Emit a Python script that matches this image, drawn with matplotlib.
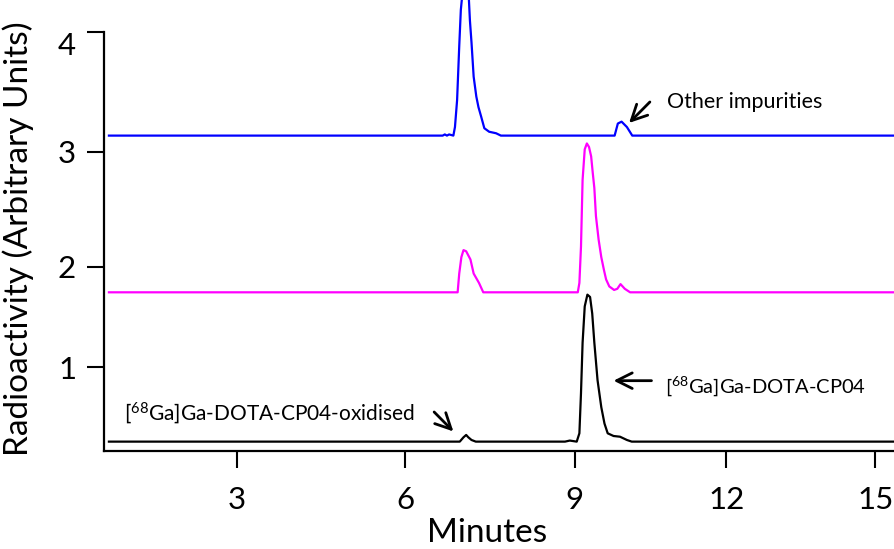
import matplotlib
matplotlib.use("Agg")
import matplotlib.pyplot as plt

plt.rcParams['font.family'] = ['Lato', 'DejaVu Sans']
plt.rcParams['mathtext.fontset'] = 'custom'
plt.rcParams['mathtext.rm'] = 'Lato'
plt.rcParams['mathtext.it'] = 'Lato'

# traces (minutes, arbitrary units incl. offset)
blue_x = [0.45, 6.70, 6.74, 6.78, 6.82, 6.90, 6.93, 6.97, 7.01, 7.04, 7.08, 7.18, 7.21, 7.24,
          7.28, 7.33, 7.37, 7.42, 7.48, 7.57, 7.70, 7.79, 9.92, 9.98, 10.05, 10.15, 10.25, 15.3]
blue_y = [3.137, 3.137, 3.147, 3.137, 3.147, 3.137, 3.21, 3.44, 3.90, 4.21, 4.40, 4.40, 4.12, 3.93,
          3.64, 3.47, 3.38, 3.30, 3.20, 3.17, 3.157, 3.137, 3.137, 3.24, 3.256, 3.21, 3.137, 3.137]

magenta_x = [0.45, 6.98, 7.01, 7.05, 7.09, 7.14, 7.22, 7.28, 7.38, 7.46, 9.23, 9.26, 9.29, 9.32,
             9.36, 9.40, 9.44, 9.48, 9.51, 9.54, 9.57, 9.62, 9.67, 9.72, 9.76, 9.82, 9.91, 9.97,
             10.03, 10.11, 10.21, 15.3]
magenta_y = [1.80, 1.80, 1.96, 2.10, 2.16, 2.15, 2.08, 1.96, 1.88, 1.80, 1.80, 1.88, 2.19, 2.76,
             3.02, 3.07, 3.04, 2.96, 2.82, 2.69, 2.45, 2.25, 2.10, 1.99, 1.91, 1.85, 1.82, 1.83,
             1.87, 1.83, 1.80, 1.80]

black_x = [0.45, 7.02, 7.09, 7.14, 7.18, 7.24, 7.32, 8.99, 9.08, 9.21, 9.26, 9.29, 9.32, 9.36,
           9.41, 9.46, 9.50, 9.54, 9.60, 9.67, 9.73, 9.79, 9.90, 10.02, 10.15, 10.24, 15.3]
black_y = [0.526, 0.526, 0.563, 0.583, 0.563, 0.540, 0.526, 0.526, 0.535, 0.526, 0.597, 0.94, 1.37, 1.68,
           1.78, 1.76, 1.62, 1.37, 1.05, 0.82, 0.68, 0.597, 0.574, 0.568, 0.540, 0.526, 0.526]

xtick_pos = [2.85, 6.0, 9.17, 12.01, 14.80]
xtick_labels = ['3', '6', '9', '12', '15']
ytick_pos = [1.16, 2.02, 3.0, 4.02]
ytick_labels = ['1', '2', '3', '4']

fig = plt.figure(figsize=(8.95, 5.49), dpi=100)
ax = fig.add_axes([0.1162, 0.1785, 0.8838, 0.8215])

ax.plot(blue_x, blue_y, color='#0000FF', lw=1.6)
ax.plot(magenta_x, magenta_y, color='#FF00FF', lw=1.6)
ax.plot(black_x, black_y, color='black', lw=1.6)

ax.set_xlim(0.358, 15.17)
ax.set_ylim(0.446, 4.294)

ax.spines['top'].set_visible(False)
ax.spines['right'].set_visible(False)
ax.spines['left'].set_linewidth(1.6)
ax.spines['bottom'].set_linewidth(1.6)
ax.spines['left'].set_bounds(0.446, 4.02)

ax.set_xticks(xtick_pos)
ax.set_xticklabels(xtick_labels)
ax.set_yticks(ytick_pos)
ax.set_yticklabels(ytick_labels)
ax.tick_params(axis='both', direction='out', length=12, width=1.5, labelsize=22.5)
ax.tick_params(axis='x', pad=13)
ax.tick_params(axis='y', pad=8)
ax.get_yticklabels()[-1].set_va('top')

ax.set_xlabel('Minutes', fontsize=24)
ax.set_ylabel('Radioactivity (Arbitrary Units)', fontsize=24)
ax.xaxis.set_label_coords(0.484, -0.148)
ax.yaxis.set_label_coords(-0.088, 0.47)

arrow = dict(arrowstyle='->', lw=2, color='black', mutation_scale=28, shrinkA=0, shrinkB=0)
ax.annotate('', xy=(10.19, 3.245), xytext=(10.58, 3.424), arrowprops=arrow)
ax.text(10.90, 3.427, 'Other impurities', fontsize=15.5, va='center')

ax.annotate('', xy=(9.90, 1.046), xytext=(10.61, 1.046), arrowprops=arrow)
ax.text(10.86, 1.0, r'[$^{68}$Ga]Ga-DOTA-CP04', fontsize=14.5, va='center')

ax.annotate('', xy=(6.90, 0.613), xytext=(6.54, 0.779), arrowprops=arrow)
ax.text(0.73, 0.77, r'[$^{68}$Ga]Ga-DOTA-CP04-oxidised', fontsize=15, va='center')

fig.savefig('out.png', dpi=100)
